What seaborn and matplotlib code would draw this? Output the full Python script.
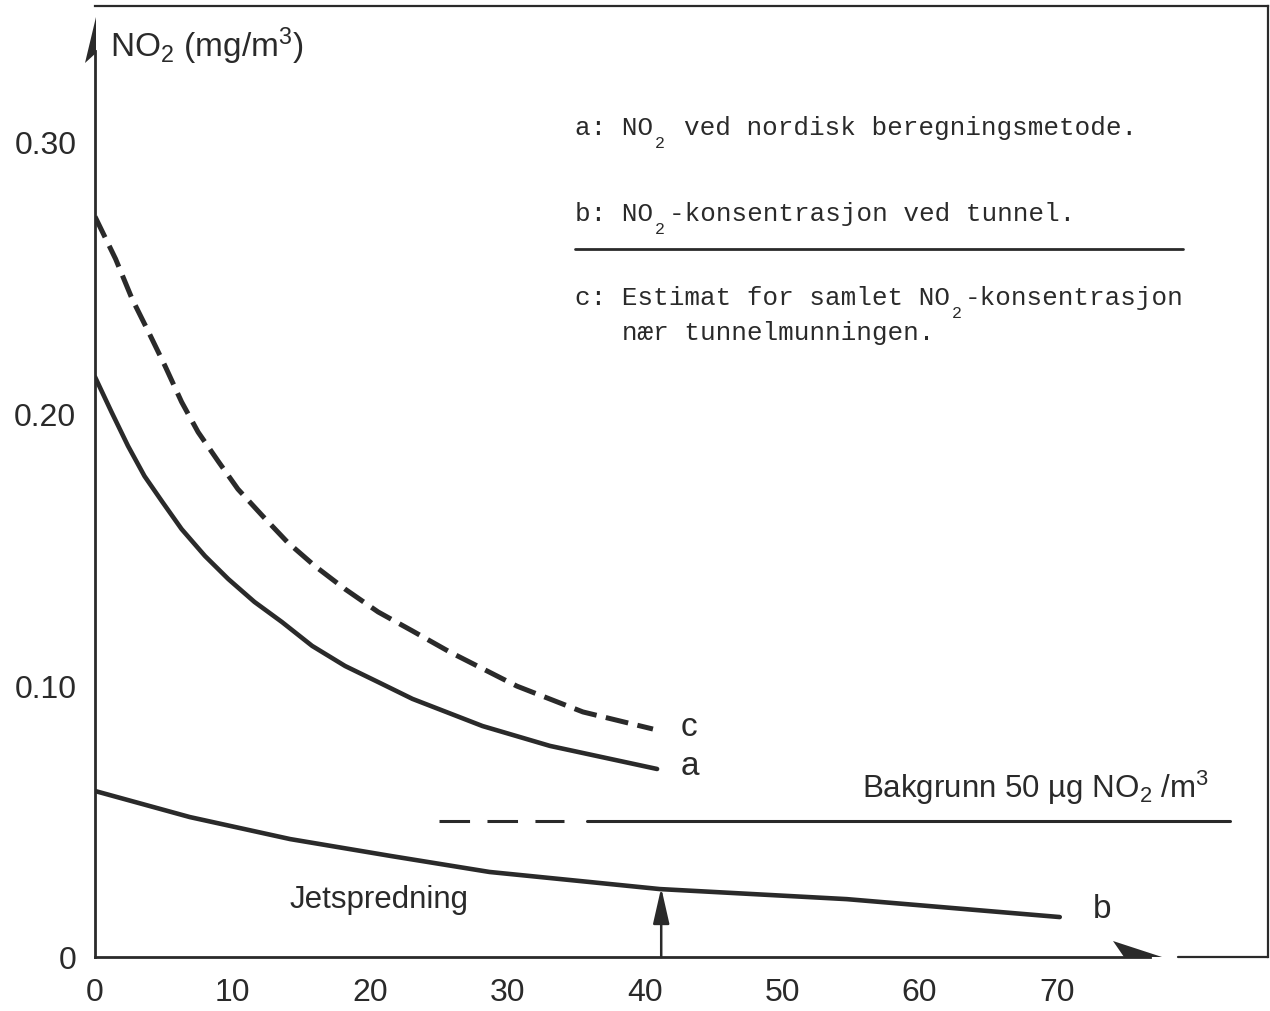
import pandas as pd
import seaborn as sns
import matplotlib.pyplot as plt
from matplotlib.lines import Line2D
from matplotlib.patches import Polygon

# curve a: NO2 by the nordic method
dist_a = [0, 1.2, 2.4, 3.6, 4.9, 6.3, 8.0, 9.7, 11.6, 13.6, 15.8, 18.2, 20.6, 23.1,
          28.2, 33.1, 40.9]
no2_a = [0.2135, 0.2006, 0.1881, 0.1770, 0.1675, 0.1575, 0.1476, 0.1391, 0.1307,
         0.1233, 0.1145, 0.1071, 0.1012, 0.0950, 0.0850, 0.0777, 0.0692]

# curve b: NO2 at the tunnel (jet spreading)
dist_b = [0, 6.9, 14.2, 21.5, 28.7, 36.0, 41.1, 54.7, 70.2]
no2_b = [0.0611, 0.0515, 0.0434, 0.0372, 0.0313, 0.0276, 0.0250, 0.0213, 0.0147]

# curve c: total estimate near the tunnel mouth
dist_c = [0, 1.5, 2.7, 3.9, 5.1, 6.3, 7.5, 9.0, 10.4, 12.2, 14.0, 16.0, 18.2, 20.6,
          23.1, 25.8, 30.7, 35.5, 40.6]
no2_c = [0.2725, 0.2569, 0.2422, 0.2300, 0.2175, 0.2043, 0.1932, 0.1822, 0.1722,
         0.1623, 0.1527, 0.1439, 0.1354, 0.1270, 0.1200, 0.1123, 0.0997, 0.0902, 0.0839]

# background level
bg_level = 0.05
bg_dash_x = [25.0, 34.1]
bg_solid_x = [35.8, 82.6]

arrow_x = 41.2
arrow_top = 0.0255

x_ticks = [0, 10, 20, 30, 40, 50, 60, 70]
y_ticks = [0, 0.10, 0.20, 0.30]
y_tick_labels = ["0", "0.10", "0.20", "0.30"]
y_minor = [0.05, 0.15, 0.25]

legend_lines = [
    "a: NO  ved nordisk beregningsmetode.",
    "b: NO -konsentrasjon ved tunnel.",
    "c: Estimat for samlet NO -konsentrasjon",
    "   nær tunnelmunningen.",
]
# character index of the subscript 2 in each line (None = no subscript)
legend_subs = [5, 5, 24, None]

sns.set_style("white")
plt.rcParams['font.family'] = ['Liberation Sans', 'DejaVu Sans']
plt.rcParams['mathtext.default'] = 'regular'

W, H = 1270, 1012
ink = '#2a2a2a'


def fp(px, py):
    # pixel (from top-left) -> figure fraction
    return px / W, 1 - py / H


fig = plt.figure(figsize=(W / 100, H / 100), dpi=100)
ax = fig.add_axes([95 / W, 1 - 958 / H, (1268 - 95) / W, (958 - 7) / H])

df_a = pd.DataFrame({"x": dist_a, "y": no2_a})
df_b = pd.DataFrame({"x": dist_b, "y": no2_b})
df_c = pd.DataFrame({"x": dist_c, "y": no2_c})

sns.lineplot(data=df_a, x="x", y="y", ax=ax, color=ink, lw=3.3, sort=False)
sns.lineplot(data=df_b, x="x", y="y", ax=ax, color=ink, lw=3.3, sort=False)
sns.lineplot(data=df_c, x="x", y="y", ax=ax, color=ink, lw=3.6, sort=False,
             linestyle=(0, (4.6, 1.9)))

df_bg1 = pd.DataFrame({"x": bg_dash_x, "y": [bg_level] * 2})
df_bg2 = pd.DataFrame({"x": bg_solid_x, "y": [bg_level] * 2})
sns.lineplot(data=df_bg1, x="x", y="y", ax=ax, color=ink, lw=2.2,
             linestyle=(0, (10, 5.7)))
sns.lineplot(data=df_bg2, x="x", y="y", ax=ax, color=ink, lw=2.2)

ax.annotate("", xy=(arrow_x, arrow_top), xytext=(arrow_x, 0),
            arrowprops=dict(arrowstyle="-|>,head_length=1.1,head_width=0.25",
                            color=ink, lw=1.8, mutation_scale=20,
                            shrinkA=0, shrinkB=0))

ax.set_xlim(0, (1268 - 95) / 13.743)
ax.set_ylim(0, (958 - 7) / 2717)

ax.set_xticks(x_ticks)
ax.set_xticklabels([str(v) for v in x_ticks])
ax.set_yticks(y_ticks)
ax.set_yticklabels(y_tick_labels)
ax.set_yticks(y_minor, minor=True)
ax.tick_params(axis="both", which="both", direction="out", length=10.5,
               width=1.5, color=ink, labelsize=23, labelcolor=ink)
ax.tick_params(axis="y", pad=3)
ax.tick_params(axis="x", pad=4)
ax.set_xlabel("")
ax.set_ylabel("")

for side in ["top", "right"]:
    ax.spines[side].set_linewidth(1.6)
    ax.spines[side].set_color(ink)
ax.spines["left"].set_linewidth(2.0)
ax.spines["left"].set_color(ink)
ax.spines["left"].set_bounds(0, (958 - 52) / 2717)
ax.spines["bottom"].set_linewidth(2.0)
ax.spines["bottom"].set_color(ink)
ax.spines["bottom"].set_bounds(0, (1150 - 95) / 13.743)

# axis arrowheads and the broken bottom frame
fig.add_artist(Polygon([fp(96, 18), fp(85, 64), fp(96, 54)], closed=True,
                       transform=fig.transFigure, color=ink, lw=0))
fig.add_artist(Polygon([fp(1162, 958), fp(1113, 942), fp(1124, 958)], closed=True,
                       transform=fig.transFigure, color=ink, lw=0))
x0, y0 = fp(1178, 958)
x1, y1 = fp(1268, 958)
fig.add_artist(Line2D([x0, x1], [y0, y1], transform=fig.transFigure,
                      color=ink, lw=1.6))

# axis title
fig.text(*fp(110, 57), "NO$_2$ (mg/m$^3$)", fontsize=24, color=ink,
         ha="left", va="baseline")

# curve labels
ax.text(42.6, 0.085, "c", fontsize=24, color=ink, ha="left", va="center")
ax.text(42.6, 0.0703, "a", fontsize=24, color=ink, ha="left", va="center")
ax.text(72.6, 0.0177, "b", fontsize=24, color=ink, ha="left", va="center")
ax.text(20.7, 0.0213, "Jetspredning", fontsize=22.5, color=ink,
        ha="center", va="center")
ax.text(55.8, 0.0626, "Bakgrunn 50 µg NO$_2$ /m$^3$", fontsize=22.5, color=ink,
        ha="left", va="center")

# typed legend
mono = "Liberation Mono"
char_w = 15.6
left_px = 575
baselines = [135, 221, 305, 340]
for line, base, si in zip(legend_lines, baselines, legend_subs):
    if si is None:
        pieces = [(0, line)]
    else:
        pieces = [(0, line[:si]), (si + 1, line[si + 1:].lstrip())]
        if line[si + 1] == " ":
            pieces[1] = (si + 2, line[si + 2:])
    for ci, part in pieces:
        fig.text(*fp(left_px + ci * char_w, base), part, family=mono,
                 fontsize=18.7, color=ink, ha="left", va="baseline")
    if si is not None:
        fig.text(*fp(left_px + si * char_w + 2, base + 13), "2",
                 family=mono, fontsize=12, color=ink, ha="left", va="baseline")
rx0, ry0 = fp(575, 250)
rx1, ry1 = fp(1183, 250)
fig.add_artist(Line2D([rx0, rx1], [ry0, ry1], transform=fig.transFigure,
                      color=ink, lw=2.0))

fig.savefig("out.png", dpi=100)
